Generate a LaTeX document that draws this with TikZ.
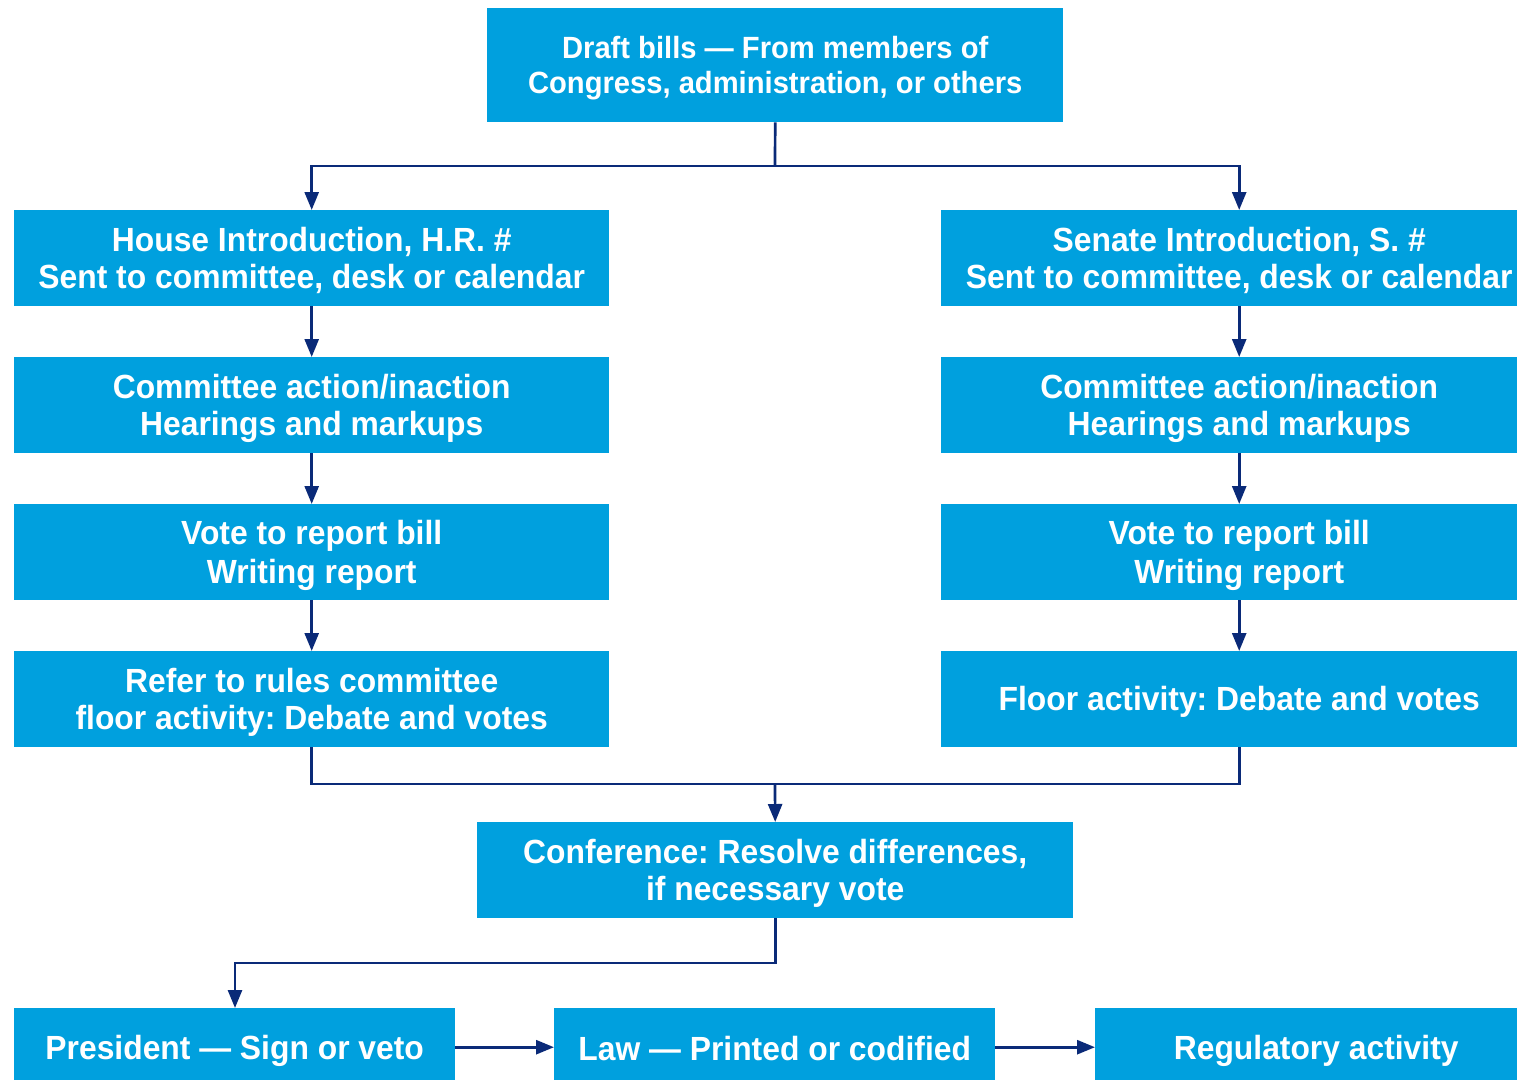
\documentclass[tikz,border=0pt]{standalone}
\usepackage{fontspec}
\setmainfont{Liberation Sans}[FakeStretch=0.95]
\usetikzlibrary{arrows.meta}
\definecolor{boxblue}{HTML}{00A0DE}
\definecolor{linenavy}{HTML}{0A2A78}
\newcommand\lstr{\rule[-6.5pt]{0pt}{37pt}}
\newcommand\dstr{\rule[-6pt]{0pt}{35pt}}
\newcommand\bstr{\rule[-6.5pt]{0pt}{45pt}}
\frenchspacing
\begin{document}
\begin{tikzpicture}[x=1pt,y=-1pt,
  bx/.style={fill=boxblue,draw=none,inner sep=0pt,anchor=north west,align=center,
    text=white,font=\fontsize{33.5}{37}\selectfont\bfseries\frenchspacing},
  conn/.style={draw=linenavy,line width=2.7pt},
  arr/.style={conn,-{Triangle[length=18pt,width=14pt]}}]
\useasboundingbox (0,0) rectangle (1517,1081);
\node[bx,minimum width=576pt,minimum height=114pt,font=\fontsize{30.7}{35}\selectfont\bfseries] (draft) at (487,8) {\dstr Draft bills — From members of\\\dstr Congress, administration, or others};
\node[bx,minimum width=595pt,minimum height=96pt] (h1) at (14,210) {\lstr House Introduction, H.R. \#\\\lstr Sent to committee, desk or calendar};
\node[bx,minimum width=595pt,minimum height=96pt] (h2) at (14,357) {\lstr Committee action/inaction\\\lstr Hearings and markups};
\node[bx,minimum width=595pt,minimum height=96pt] (h3) at (14,504) {\lstr Vote to report bill\\\lstr Writing report};
\node[bx,minimum width=595pt,minimum height=96pt] (h4) at (14,651) {\lstr Refer to rules committee\\\lstr floor activity: Debate and votes};
\node[bx,minimum width=596pt,minimum height=96pt] (s1) at (941,210) {\lstr Senate Introduction, S. \#\\\lstr Sent to committee, desk or calendar};
\node[bx,minimum width=596pt,minimum height=96pt] (s2) at (941,357) {\lstr Committee action/inaction\\\lstr Hearings and markups};
\node[bx,minimum width=596pt,minimum height=96pt] (s3) at (941,504) {\lstr Vote to report bill\\\lstr Writing report};
\node[bx,minimum width=596pt,minimum height=96pt] (s4) at (941,651) {\lstr Floor activity: Debate and votes};
\node[bx,minimum width=596pt,minimum height=96pt] (conf) at (477,822) {\lstr Conference: Resolve differences,\\\lstr if necessary vote};
\node[bx,minimum width=441pt,minimum height=72pt] (pres) at (14,1008) {\bstr President — Sign or veto};
\node[bx,minimum width=441pt,minimum height=72pt] (law) at (554,1008) {\bstr Law — Printed or codified};
\node[bx,minimum width=442pt,minimum height=72pt] (reg) at (1095,1008) {\bstr Regulatory activity};
\coordinate (split) at (775,166);
\coordinate (join) at (775,784);
\draw[conn] (draft.south) -- (split);
\draw[arr] (split) -| (h1.north);
\draw[arr] (split) -| (s1.north);
\draw[arr] (h1) -- (h2);
\draw[arr] (h2) -- (h3);
\draw[arr] (h3) -- (h4);
\draw[arr] (s1) -- (s2);
\draw[arr] (s2) -- (s3);
\draw[arr] (s3) -- (s4);
\draw[conn] (h4.south) |- (join);
\draw[conn] (s4.south) |- (join);
\draw[arr] (join) -- (conf.north);
\draw[arr] (conf.south) |- (500,963) -| (235,1008);
\draw[arr] ([yshift=-3pt]pres.east) -- ([yshift=-3pt]law.west);
\draw[arr] ([yshift=-3pt]law.east) -- ([yshift=-3pt]reg.west);
\end{tikzpicture}
\end{document}
